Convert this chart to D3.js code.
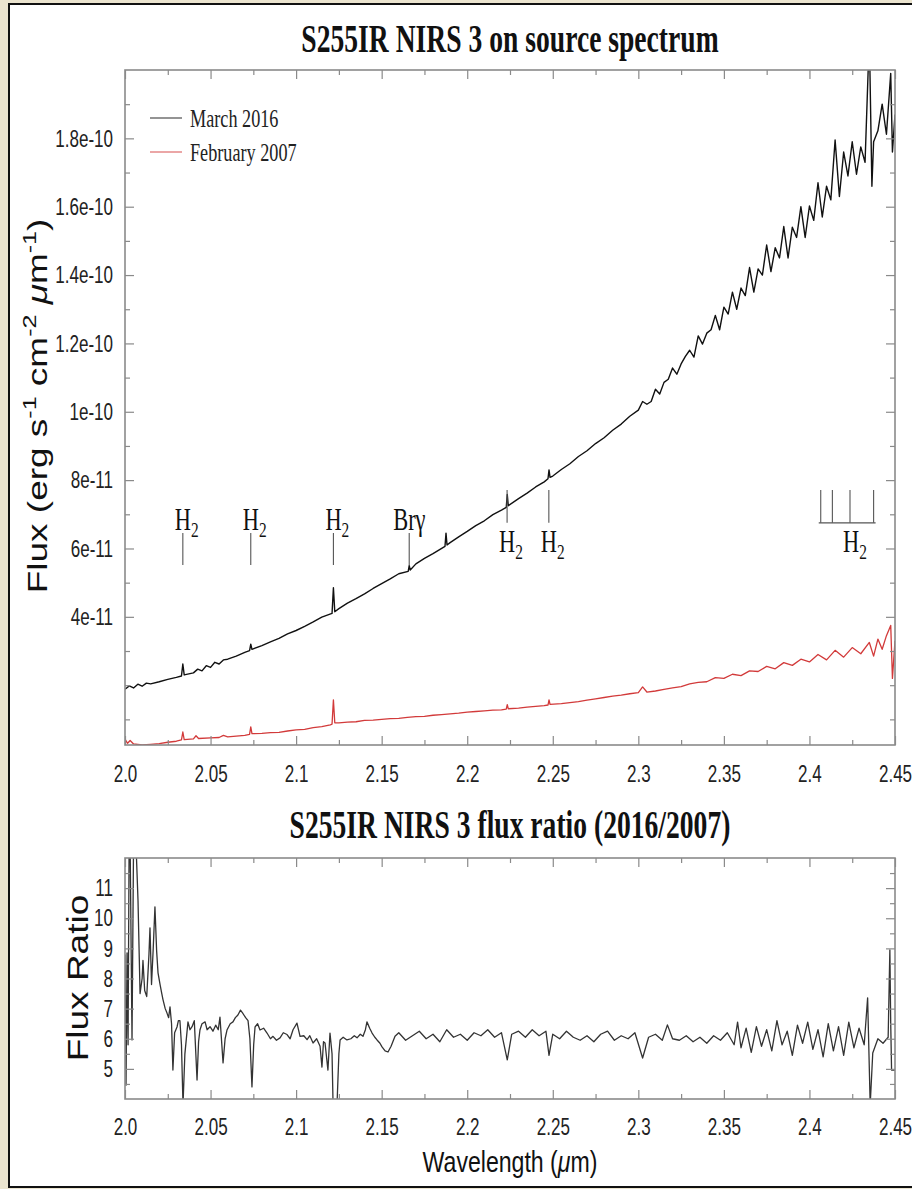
<!DOCTYPE html>
<html>
<head>
<meta charset="utf-8">
<script src="https://cdn.jsdelivr.net/npm/d3@7"></script>
<style>
  body { margin: 0; background: #ebe4cf; }
  svg { display: block; }
  .axis .tick line { stroke: #8a8a8a; stroke-width: 1.2; }
  .axis .tick text { font-family: "Liberation Sans", Arial, sans-serif; font-size: 24px; fill: #222; }
  .axis .domain { display: none; }
</style>
</head>
<body>
<script>
// ---- data (flux in units of 1e-11 erg s^-1 cm^-2 um^-1) ----
var wave2016 = [2.000, 2.0025, 2.005, 2.0075, 2.010, 2.0125, 2.015, 2.020, 2.025, 2.030, 2.0330, 2.0338, 2.0346,
    2.040, 2.0425, 2.045, 2.0475, 2.050, 2.0525, 2.055, 2.0575, 2.060, 2.065, 2.070, 2.0728, 2.0735, 2.0742,
    2.080, 2.085, 2.090, 2.095, 2.100, 2.105, 2.110, 2.115, 2.1210, 2.1218, 2.1226, 2.125, 2.130, 2.135, 2.140,
    2.145, 2.150, 2.155, 2.160, 2.1655, 2.1661, 2.1667, 2.170, 2.175, 2.180, 2.1870, 2.1876, 2.1882, 2.190,
    2.195, 2.200, 2.205, 2.210, 2.215, 2.220, 2.2228, 2.2234, 2.2240, 2.230, 2.235, 2.240, 2.245, 2.2472,
    2.2478, 2.2484, 2.250, 2.255, 2.260, 2.265, 2.270, 2.275, 2.280, 2.285, 2.290, 2.295, 2.300, 2.3025,
    2.305, 2.3075, 2.310, 2.3125, 2.315, 2.3175, 2.320, 2.3225, 2.325, 2.3275, 2.330, 2.3325, 2.335, 2.3375,
    2.340, 2.3425, 2.345, 2.3475, 2.350, 2.3525, 2.355, 2.3575, 2.360, 2.3625, 2.365, 2.3675, 2.370, 2.3725,
    2.375, 2.3775, 2.380, 2.3825, 2.385, 2.3875, 2.390, 2.3925, 2.395, 2.3975, 2.400, 2.4025, 2.405, 2.4075,
    2.410, 2.4125, 2.415, 2.4175, 2.420, 2.4225, 2.425, 2.4275, 2.430, 2.4325, 2.435, 2.4365, 2.4375, 2.440,
    2.4425, 2.445, 2.4475, 2.4485, 2.450];
var flux2016 = [1.88, 1.98, 1.92, 2.03, 1.97, 2.06, 2.04, 2.10, 2.17, 2.23, 2.27, 2.62, 2.30,
    2.36, 2.47, 2.42, 2.57, 2.52, 2.67, 2.62, 2.74, 2.76, 2.85, 2.96, 3.01, 3.20, 3.05,
    3.16, 3.27, 3.37, 3.50, 3.60, 3.72, 3.85, 3.99, 4.10, 4.85, 4.15, 4.24, 4.40, 4.53, 4.67,
    4.83, 4.97, 5.11, 5.26, 5.33, 5.50, 5.37, 5.55, 5.71, 5.85, 6.06, 6.45, 6.10, 6.17,
    6.34, 6.50, 6.67, 6.81, 6.99, 7.12, 7.20, 7.58, 7.25, 7.46, 7.62, 7.80, 7.95, 8.04,
    8.30, 8.08, 8.12, 8.31, 8.48, 8.69, 8.86, 9.07, 9.24, 9.46, 9.64, 9.87, 10.05, 10.30,
    10.22, 10.30, 10.66, 10.52, 10.86, 10.95, 11.28, 11.10, 11.40, 11.62, 11.80, 11.60, 12.22, 11.98,
    12.30, 12.40, 12.82, 12.40, 13.06, 12.86, 13.50, 13.00, 13.62, 13.40, 14.22, 13.50, 14.18, 14.00,
    14.88, 14.10, 14.80, 14.50, 15.42, 14.50, 15.40, 15.10, 16.00, 15.10, 16.02, 15.60, 16.70, 15.70,
    16.60, 16.20, 17.95, 16.30, 17.60, 16.90, 17.90, 16.95, 17.75, 17.30, 21.00, 16.60, 17.90, 18.22,
    19.00, 18.12, 19.90, 17.60, 18.70];

var wave2007 = [2.000, 2.0015, 2.003, 2.005, 2.010, 2.015, 2.020, 2.025, 2.030, 2.0330, 2.0338, 2.0346,
    2.040, 2.0415, 2.043, 2.050, 2.055, 2.0575, 2.060, 2.065, 2.070, 2.0728, 2.0735, 2.0742, 2.080, 2.085,
    2.090, 2.095, 2.100, 2.105, 2.110, 2.115, 2.120, 2.1210, 2.1218, 2.1226, 2.125, 2.130, 2.135, 2.140,
    2.145, 2.150, 2.155, 2.160, 2.165, 2.170, 2.175, 2.180, 2.185, 2.190, 2.195, 2.200, 2.205, 2.210,
    2.215, 2.220, 2.2228, 2.2234, 2.2240, 2.230, 2.235, 2.240, 2.245, 2.2472, 2.2478, 2.2484, 2.255, 2.260,
    2.265, 2.270, 2.275, 2.280, 2.285, 2.290, 2.295, 2.300, 2.3025, 2.305, 2.310, 2.315, 2.320, 2.325,
    2.330, 2.335, 2.340, 2.345, 2.350, 2.355, 2.360, 2.365, 2.370, 2.375, 2.380, 2.385, 2.390, 2.395,
    2.400, 2.405, 2.410, 2.415, 2.420, 2.425, 2.430, 2.435, 2.4375, 2.440, 2.4425, 2.445, 2.4475, 2.4485, 2.450];
var flux2007 = [0.42, 0.30, 0.38, 0.28, 0.25, 0.27, 0.29, 0.33, 0.36, 0.40, 0.63, 0.41,
    0.43, 0.52, 0.44, 0.46, 0.47, 0.53, 0.49, 0.51, 0.53, 0.56, 0.78, 0.58, 0.59, 0.61,
    0.62, 0.66, 0.69, 0.71, 0.76, 0.79, 0.84, 0.86, 1.57, 0.90, 0.90, 0.92, 0.93, 0.97,
    0.98, 1.00, 1.02, 1.03, 1.06, 1.08, 1.09, 1.12, 1.14, 1.16, 1.18, 1.21, 1.23, 1.25,
    1.27, 1.28, 1.30, 1.43, 1.31, 1.33, 1.36, 1.38, 1.40, 1.42, 1.57, 1.44, 1.46, 1.49,
    1.52, 1.56, 1.60, 1.64, 1.68, 1.71, 1.75, 1.78, 1.95, 1.80, 1.83, 1.88, 1.92, 1.96,
    2.04, 2.08, 2.10, 2.22, 2.20, 2.32, 2.28, 2.42, 2.40, 2.55, 2.48, 2.66, 2.58, 2.76,
    2.68, 2.90, 2.74, 3.02, 2.82, 3.10, 2.92, 3.25, 2.85, 3.35, 3.05, 3.45, 3.75, 2.20, 3.30];

var waveRatio = [2.0000, 2.0006, 2.0012, 2.0018, 2.0024, 2.0030, 2.0041, 2.0050, 2.0064, 2.0076, 2.0088,
    2.0100, 2.0105, 2.0115, 2.0127, 2.0140, 2.0146, 2.0155, 2.0165, 2.0175, 2.0185, 2.0193, 2.0205, 2.0215,
    2.0222, 2.0235, 2.0245, 2.0255, 2.0263, 2.0272, 2.0280, 2.0290, 2.0304, 2.0312, 2.0321, 2.0330, 2.0339,
    2.0350, 2.0368, 2.0380, 2.0392, 2.0405, 2.0421, 2.0430, 2.0438, 2.0450, 2.0468, 2.0480, 2.0497, 2.0514,
    2.0530, 2.0545, 2.0555, 2.0573, 2.0585, 2.0596, 2.0615, 2.0631, 2.0645, 2.0660, 2.0675, 2.0690, 2.0705,
    2.0719, 2.0730, 2.0742, 2.0752, 2.0760, 2.0775, 2.0789, 2.0810, 2.0830, 2.0850, 2.0865, 2.0885, 2.0906,
    2.0925, 2.0947, 2.0965, 2.0982, 2.1005, 2.1023, 2.1045, 2.1064, 2.1080, 2.1099, 2.1120, 2.1140, 2.1151,
    2.1160, 2.1169, 2.1186, 2.1198, 2.1210, 2.1216, 2.1239, 2.1250, 2.1257, 2.1275, 2.1297, 2.1320, 2.1340,
    2.1356, 2.1375, 2.1391, 2.1405, 2.1414, 2.1430, 2.1444, 2.1460, 2.1473, 2.1490, 2.1502, 2.1520, 2.1537,
    2.1555, 2.1578, 2.160, 2.164, 2.168, 2.172, 2.176, 2.180, 2.184, 2.188, 2.192, 2.196, 2.200, 2.204,
    2.208, 2.212, 2.216, 2.220, 2.2234, 2.226, 2.230, 2.234, 2.238, 2.242, 2.246, 2.2478, 2.250, 2.254,
    2.258, 2.262, 2.266, 2.270, 2.274, 2.278, 2.282, 2.286, 2.290, 2.294, 2.298, 2.3025, 2.306, 2.310,
    2.314, 2.317, 2.320, 2.324, 2.328, 2.332, 2.336, 2.340, 2.344, 2.348, 2.352, 2.356, 2.358, 2.360,
    2.363, 2.366, 2.369, 2.372, 2.375, 2.378, 2.381, 2.384, 2.387, 2.390, 2.393, 2.396, 2.399, 2.402,
    2.405, 2.408, 2.411, 2.414, 2.417, 2.420, 2.423, 2.426, 2.429, 2.432, 2.434, 2.4355, 2.437, 2.440,
    2.443, 2.446, 2.447, 2.4475, 2.448, 2.450];
var fluxRatio = [8.8, 4.46, 8.85, 5.8, 12.5, 12.5, 5.96, 12.5, 12.5, 10.6, 7.5,
    8.0, 8.6, 7.6, 7.4, 8.8, 9.68, 7.8, 9.0, 10.38, 8.9, 8.19, 7.8, 7.5,
    7.3, 7.0, 6.86, 6.7, 7.06, 6.5, 4.96, 6.2, 6.39, 6.6, 6.6, 5.8, 3.8,
    5.5, 6.56, 6.3, 6.4, 6.6, 4.63, 5.9, 6.29, 6.5, 6.56, 6.3, 6.4, 6.25,
    6.45, 6.3, 6.72, 5.2, 6.0, 6.29, 6.5, 6.56, 6.7, 6.79, 6.95, 6.83, 6.7,
    6.6, 6.0, 4.4, 5.8, 6.39, 6.5, 6.29, 6.35, 6.19, 6.0, 6.08, 5.95, 6.03,
    6.2, 6.14, 6.0, 6.3, 6.52, 6.08, 6.1, 5.97, 6.1, 5.86, 6.0, 5.75, 5.06,
    5.9, 5.86, 4.96, 6.19, 5.5, 3.8, 3.8, 5.5, 5.96, 6.05, 5.96, 6.0, 6.1,
    6.03, 6.15, 6.08, 6.3, 6.56, 6.35, 6.19, 6.05, 5.96, 5.85, 5.73, 5.6, 5.56,
    5.75, 6.08, 6.20, 5.95, 6.10, 6.25, 6.00, 6.15, 5.90, 6.30, 6.05, 6.15, 5.95, 6.20,
    6.10, 6.30, 6.05, 6.20, 5.30, 6.15, 6.25, 6.05, 6.30, 6.10, 6.25, 5.45, 6.15, 6.00,
    6.25, 6.05, 5.95, 6.10, 5.90, 6.15, 6.25, 5.95, 6.10, 6.00, 6.20, 5.36, 6.05, 6.15,
    5.95, 6.46, 6.00, 5.95, 6.10, 5.90, 6.05, 5.85, 6.10, 5.95, 6.20, 5.80, 6.55, 5.70,
    6.35, 5.55, 6.40, 5.75, 6.30, 5.60, 6.60, 5.80, 6.25, 5.45, 6.45, 5.85, 6.55, 5.65,
    6.30, 5.40, 6.50, 5.60, 6.40, 5.45, 6.55, 5.70, 6.35, 5.80, 7.36, 3.80, 5.53, 6.00,
    5.85, 6.05, 8.95, 6.50, 4.96, 4.96];

// axis ticks and labels
var xTickValues = [2.0, 2.05, 2.1, 2.15, 2.2, 2.25, 2.3, 2.35, 2.4, 2.45];
var xTickLabels = ["2.0", "2.05", "2.1", "2.15", "2.2", "2.25", "2.3", "2.35", "2.4", "2.45"];
var xMinorValues = [2.025, 2.075, 2.125, 2.175, 2.225, 2.275, 2.325, 2.375, 2.425];
var fluxTickValues = [4, 6, 8, 10, 12, 14, 16, 18];
var fluxTickLabels = ["4e-11", "6e-11", "8e-11", "1e-10", "1.2e-10", "1.4e-10", "1.6e-10", "1.8e-10"];
var fluxMinorValues = [1, 2, 3, 5, 7, 9, 11, 13, 15, 17, 19];
var ratioTickValues = [5, 6, 7, 8, 9, 10, 11];
var ratioTickLabels = ["5", "6", "7", "8", "9", "10", "11"];
var ratioMinorValues = [4.5, 5.5, 6.5, 7.5, 8.5, 9.5, 10.5, 11.5];

// legend
var seriesNames = ["March 2016", "February 2007"];
var seriesColors = ["#111111", "#d23a3a"];

// line identifications
var lineWaves = [2.0338, 2.0735, 2.1218, 2.1661, 2.2233, 2.2477];
var lineNames = ["H2", "H2", "H2", "Br\u03b3", "H2", "H2"];
var lineLabelAbove = [true, true, true, true, false, false];
var qBranchWaves = [2.4066, 2.4134, 2.4237, 2.4375];

/*
 page setup
*/
var width = 912, height = 1189;
var KS = 0.71,   // horizontal squeeze of sans text (the source image is compressed)
    KT = 0.70;   // squeeze of serif text
var SANS = '"Liberation Sans", Arial, Helvetica, sans-serif',
    SERIF = '"Liberation Serif", "Times New Roman", serif';

var svg = d3.select("body").append("svg")
    .attr("width", width)
    .attr("height", height);

svg.append("rect")
    .attr("x", 9).attr("y", 4)
    .attr("width", width).attr("height", height - 6)
    .attr("fill", "#ffffff")
    .attr("stroke", "#111")
    .attr("stroke-width", 2);

var x = d3.scaleLinear().domain([2.0, 2.45]).range([125, 895]);
var yFlux = d3.scaleLinear().domain([0.25, 20]).range([745, 70]);
var yRatio = d3.scaleLinear().domain([4, 12]).range([1099, 858]);

function squeezed(parent, px, py, k, rotate) {
    return parent.append("text")
        .attr("transform", "translate(" + px + "," + py + ") scale(" + k + ",1)" + (rotate ? " rotate(-90)" : ""));
}

function drawFrame(y, yMajor, yLabels, yMinor, xPad) {
    var top = y.range()[1], bottom = y.range()[0];
    var left = x.range()[0], right = x.range()[1];
    var g = svg.append("g").attr("class", "axis");

    // bottom axis with labels
    g.append("g").attr("transform", "translate(0," + bottom + ")")
        .call(d3.axisBottom(x).tickValues(xTickValues).tickSize(-9).tickSizeOuter(0)
            .tickPadding(xPad).tickFormat(function(d, i) { return xTickLabels[i]; }))
        .selectAll("text").attr("transform", "scale(" + KS + ",1)");
    g.append("g").attr("transform", "translate(0," + bottom + ")")
        .call(d3.axisBottom(x).tickValues(xMinorValues).tickSize(-5).tickSizeOuter(0).tickFormat(""));
    // top edge ticks
    g.append("g").attr("transform", "translate(0," + top + ")")
        .call(d3.axisTop(x).tickValues(xTickValues).tickSize(-9).tickSizeOuter(0).tickFormat(""));
    g.append("g").attr("transform", "translate(0," + top + ")")
        .call(d3.axisTop(x).tickValues(xMinorValues).tickSize(-5).tickSizeOuter(0).tickFormat(""));
    // left axis with labels
    g.append("g").attr("transform", "translate(" + left + ",0)")
        .call(d3.axisLeft(y).tickValues(yMajor).tickSize(-9).tickSizeOuter(0)
            .tickPadding(12 / KS).tickFormat(function(d, i) { return yLabels[i]; }))
        .selectAll("text").attr("transform", "scale(" + KS + ",1)");
    g.append("g").attr("transform", "translate(" + left + ",0)")
        .call(d3.axisLeft(y).tickValues(yMinor).tickSize(-5).tickSizeOuter(0).tickFormat(""));
    // right edge ticks
    g.append("g").attr("transform", "translate(" + right + ",0)")
        .call(d3.axisRight(y).tickValues(yMajor).tickSize(-9).tickSizeOuter(0).tickFormat(""));
    g.append("g").attr("transform", "translate(" + right + ",0)")
        .call(d3.axisRight(y).tickValues(yMinor).tickSize(-5).tickSizeOuter(0).tickFormat(""));

    g.append("rect")
        .attr("x", left).attr("y", top)
        .attr("width", right - left).attr("height", bottom - top)
        .attr("fill", "none")
        .attr("stroke", "#8a8a8a")
        .attr("stroke-width", 1.6);
}

function clipTo(id, y) {
    svg.append("clipPath").attr("id", id)
        .append("rect")
        .attr("x", x.range()[0]).attr("y", y.range()[1])
        .attr("width", x.range()[1] - x.range()[0])
        .attr("height", y.range()[0] - y.range()[1]);
}

function drawSeries(waves, values, y, color, w, clipId) {
    var line = d3.line()
        .x(function(d) { return x(d[0]); })
        .y(function(d) { return y(d[1]); });
    svg.append("path")
        .datum(d3.zip(waves, values))
        .attr("d", line)
        .attr("fill", "none")
        .attr("stroke", color)
        .attr("stroke-width", w)
        .attr("stroke-linejoin", "round")
        .attr("clip-path", "url(#" + clipId + ")");
}

/*
 upper panel: spectra
*/
squeezed(svg, 510, 52, 0.69, false)
    .attr("text-anchor", "middle")
    .style("font", "bold 40px " + SERIF)
    .attr("fill", "#111")
    .text("S255IR NIRS 3 on source spectrum");

clipTo("clipFlux", yFlux);
drawSeries(wave2007, flux2007, yFlux, seriesColors[1], 1.3, "clipFlux");
drawSeries(wave2016, flux2016, yFlux, seriesColors[0], 1.4, "clipFlux");
drawFrame(yFlux, fluxTickValues, fluxTickLabels, fluxMinorValues, 20);

// y label with superscripts
var yl = squeezed(svg, 47, 406, 0.74, true)
    .attr("text-anchor", "middle")
    .style("font", "37px " + SANS)
    .attr("fill", "#111");
function sup(t, s) {
    t.append("tspan").attr("dy", -15).style("font-size", "25px").text(s);
}
yl.append("tspan").text("Flux (erg s");
sup(yl, "-1");
yl.append("tspan").attr("dy", 15).text(" cm");
sup(yl, "-2");
yl.append("tspan").attr("dy", 15).text(" ");
yl.append("tspan").style("font-style", "italic").text("\u03bc");
yl.append("tspan").text("m");
sup(yl, "-1");
yl.append("tspan").attr("dy", 15).text(")");

// legend
var legend = svg.append("g");
seriesNames.forEach(function(name, i) {
    var ly = 118 + i * 34;
    legend.append("line")
        .attr("x1", 150).attr("x2", 182)
        .attr("y1", ly).attr("y2", ly)
        .attr("stroke", seriesColors[i])
        .attr("stroke-opacity", 0.75)
        .attr("stroke-width", 1.2);
    squeezed(legend, 190, ly + 9, KT, false)
        .style("font", "26px " + SERIF)
        .attr("fill", "#222")
        .text(name);
});

// identified lines
var marks = svg.append("g");
function markLabel(px, py, name) {
    var t = squeezed(marks, px, py, KT, false)
        .style("font", "32px " + SERIF)
        .attr("fill", "#111");
    if (name === "H2") {
        t.append("tspan").text("H");
        t.append("tspan").attr("dy", 7).style("font-size", "22px").text("2");
    } else {
        t.text(name);
    }
    return t;
}
lineWaves.forEach(function(w, i) {
    var above = lineLabelAbove[i];
    var y1 = above ? yFlux(5.52) : yFlux(6.75),
        y2 = above ? yFlux(6.45) : yFlux(7.71);
    marks.append("line")
        .attr("x1", x(w)).attr("x2", x(w))
        .attr("y1", y1).attr("y2", y2)
        .attr("stroke", "#555").attr("stroke-width", 1.1);
    var tx = lineNames[i] === "H2" ? x(w) - 8 : x(w) - 16;
    markLabel(tx, above ? yFlux(6.54) : yFlux(5.9), lineNames[i]);
});
qBranchWaves.forEach(function(w) {
    marks.append("line")
        .attr("x1", x(w)).attr("x2", x(w))
        .attr("y1", yFlux(6.75)).attr("y2", yFlux(7.71))
        .attr("stroke", "#555").attr("stroke-width", 1.1);
});
marks.append("line")
    .attr("x1", x(qBranchWaves[0]) - 2).attr("x2", x(qBranchWaves[3]) + 2)
    .attr("y1", yFlux(6.75)).attr("y2", yFlux(6.75))
    .attr("stroke", "#555").attr("stroke-width", 1.1);
markLabel(x(2.4196), yFlux(5.9), "H2");

/*
 lower panel: flux ratio
*/
squeezed(svg, 510, 838, 0.69, false)
    .attr("text-anchor", "middle")
    .style("font", "bold 40px " + SERIF)
    .attr("fill", "#111")
    .text("S255IR NIRS 3 flux ratio (2016/2007)");

clipTo("clipRatio", yRatio);
drawSeries(waveRatio, fluxRatio, yRatio, "#333", 1.3, "clipRatio");
drawFrame(yRatio, ratioTickValues, ratioTickLabels, ratioMinorValues, 19);

squeezed(svg, 88, 978, 0.8, true)
    .attr("text-anchor", "middle")
    .style("font", "37px " + SANS)
    .attr("fill", "#111")
    .text("Flux Ratio");

var xl = squeezed(svg, 510, 1172, 0.77, false)
    .attr("text-anchor", "middle")
    .style("font", "30px " + SANS)
    .attr("fill", "#111");
xl.append("tspan").text("Wavelength (");
xl.append("tspan").style("font-style", "italic").text("\u03bc");
xl.append("tspan").text("m)");
</script>
</body>
</html>
